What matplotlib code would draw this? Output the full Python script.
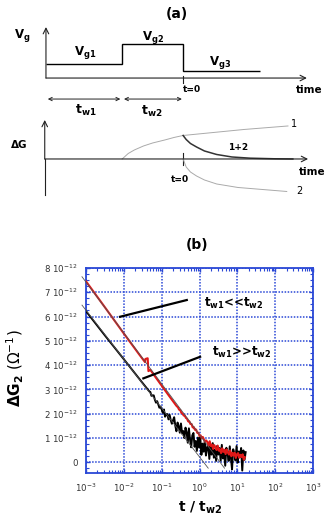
import numpy as np
import matplotlib
matplotlib.use("Agg")
import matplotlib.pyplot as plt
from matplotlib.ticker import FixedLocator, FuncFormatter, LogLocator, NullFormatter, MultipleLocator

plt.rcParams['font.family'] = ['DejaVu Sans']
plt.rcParams['mathtext.fontset'] = 'dejavusans'

# ---------------- panel (a) schematic data ----------------
vg_edges = [-2.25, -1.0, 0.0, 1.26]          # start, switch, t=0, end
vg_levels = [1.4, 3.4, 0.7]                  # Vg1, Vg2, Vg3
vg_labels = ['$\\mathbf{V_{g1}}$', '$\\mathbf{V_{g2}}$', '$\\mathbf{V_{g3}}$']

c1_t = [-1.0, -0.9, -0.8, -0.65, -0.5, -0.3, -0.15, 0.0, 0.5, 1.0, 1.72]
c1_y = [0.0, 0.55, 0.9, 1.3, 1.6, 1.9, 2.15, 2.35, 2.65, 2.95, 3.3]
c2_t = [0.0, 0.05, 0.12, 0.22, 0.35, 0.55, 0.9, 1.3, 1.7]
c2_y = [0.0, -0.8, -1.3, -1.7, -2.1, -2.5, -2.85, -3.05, -3.25]
c12_t = [0.0, 0.05, 0.12, 0.22, 0.35, 0.55, 0.8, 1.1, 1.5, 1.8]
c12_y = [2.35, 1.95, 1.55, 1.2, 0.8, 0.45, 0.2, 0.08, 0.02, 0.0]

# ---------------- panel (b) data (log10 t/tw2, dG in 1e-12 1/Ohm) ----------------
red_head_logt = [-3.0, -2.5, -2.0, -1.6, -1.44, -1.43, -1.37, -1.35, -1.3, -1.0, -0.8, -0.63]
red_head_val = [7.45, 6.38, 5.30, 4.45, 4.12, 4.25, 4.28, 3.75, 3.80, 3.15, 2.72, 2.36]
red_tail_val = [2.30, 2.26, 2.16, 2.15, 2.03, 2.01, 1.92, 1.92, 1.82, 1.79,
                1.68, 1.68, 1.57, 1.57, 1.43, 1.44, 1.33, 1.34, 1.21, 1.21,
                1.08, 1.10, 0.98, 1.03, 0.92, 0.83, 0.89, 0.82, 0.67, 0.86,
                0.66, 0.72, 0.54, 0.70, 0.60, 0.50, 0.68, 0.47, 0.53, 0.37,
                0.57, 0.42, 0.51, 0.33, 0.52, 0.39, 0.31, 0.48, 0.24, 0.38,
                0.26, 0.39, 0.17, 0.32, 0.37, 0.18, 0.30, 0.21, 0.32, 0.10, 0.20]
red_tail_range = (-0.6, 1.2)

black_head_logt = [-3.0, -2.5, -2.0, -1.5, -1.33]
black_head_val = [6.22, 5.22, 4.24, 3.25, 2.92]
black_tail_val = [2.89, 2.73, 2.75, 2.75, 2.57, 2.45, 2.51, 2.38, 2.24, 2.29,
                  2.17, 2.03, 2.17, 1.87, 1.97, 1.98, 1.76, 1.95, 1.73, 1.58,
                  1.72, 1.85, 1.50, 1.27, 1.63, 1.48, 1.21, 1.59, 1.18, 1.28,
                  0.99, 1.42, 1.23, 0.80, 1.39, 0.93, 0.61, 1.10, 1.20, 0.63,
                  0.87, 0.46, 1.01, 0.60, 1.03, 0.30, 0.76, 0.43, 0.89, 0.27,
                  0.56, 0.75, 0.13, 0.67, 0.31, 0.78, 0.18, 0.51, 0.05, 0.67,
                  0.31, 0.58, 0.06, 0.71, 0.15, 0.42, -0.15, 0.59, 0.38, 0.05,
                  0.65, 0.18, -0.30, 0.53, 0.38, 0.07, 0.66, -0.02, 0.44, 0.20,
                  0.58, -0.35, 0.48, 0.09, 0.41]
black_tail_range = (-1.3, 1.22)

fit_red_logt = [-3.106, 0.66]
fit_red_val = [7.64, -0.25]
fit_black_logt = [-3.106, 0.23]
fit_black_val = [6.47, -0.25]

y_ticks = [0, 1, 2, 3, 4, 5, 6, 7, 8]
x_ticks = [1e-3, 1e-2, 1e-1, 1e0, 1e1, 1e2, 1e3]

fig = plt.figure(figsize=(3.26, 5.2), dpi=100)

XL = (-3.004, 2.344)
ink = '#222222'

# ---- Vg diagram ----
ax_vg = fig.add_axes([0, 0.773, 1, 0.1923])
ax_vg.set_xlim(*XL); ax_vg.set_ylim(-4, 6); ax_vg.axis('off')
ax_vg.stairs(vg_levels, vg_edges, baseline=None, color='black', lw=1.0)
ax_vg.annotate('', xy=(2.03, 0), xytext=(vg_edges[0], 0),
               arrowprops=dict(arrowstyle='->', lw=0.8, color=ink, shrinkA=0, shrinkB=0))
ax_vg.annotate('', xy=(vg_edges[0], 5.1), xytext=(vg_edges[0], 0),
               arrowprops=dict(arrowstyle='->', lw=0.8, color=ink, shrinkA=0, shrinkB=0))
ax_vg.plot([0, 0], [0.25, -0.45], color=ink, lw=0.8)
ax_vg.annotate('', xy=(-1.03, -2.1), xytext=(-2.22, -2.1),
               arrowprops=dict(arrowstyle='<->', lw=0.7, color=ink, shrinkA=0, shrinkB=0,
                               mutation_scale=6))
ax_vg.annotate('', xy=(-0.02, -2.1), xytext=(-0.97, -2.1),
               arrowprops=dict(arrowstyle='<->', lw=0.7, color=ink, shrinkA=0, shrinkB=0,
                               mutation_scale=6))
ax_vg.text(-2.64, 4.3, '$\\mathbf{V_g}$', fontsize=8.5, ha='center', va='center')
ax_vg.text(-1.61, 2.55, vg_labels[0], fontsize=8.5, ha='center', va='center')
ax_vg.text(-0.49, 4.05, vg_labels[1], fontsize=8.5, ha='center', va='center')
ax_vg.text(0.6, 1.55, vg_labels[2], fontsize=8.5, ha='center', va='center')
ax_vg.text(0.15, -1.15, 't=0', fontsize=6.5, fontweight='bold', ha='center', va='center')
ax_vg.text(2.06, -1.2, 'time', fontsize=7.5, fontweight='bold', ha='center', va='center')
ax_vg.text(-1.6, -3.25, '$\\mathbf{t_{w1}}$', fontsize=9, ha='center', va='center')
ax_vg.text(-0.52, -3.35, '$\\mathbf{t_{w2}}$', fontsize=9, ha='center', va='center')

# ---- dG diagram ----
ax_dg = fig.add_axes([0, 0.6058, 1, 0.1731])
ax_dg.set_xlim(*XL); ax_dg.set_ylim(-4.6, 4.4); ax_dg.axis('off')
ax_dg.plot([-2.27, -2.27], [-3.6, 0], color=ink, lw=0.8)
ax_dg.annotate('', xy=(-2.27, 3.9), xytext=(-2.27, 0),
               arrowprops=dict(arrowstyle='->', lw=0.8, color=ink, shrinkA=0, shrinkB=0))
ax_dg.annotate('', xy=(2.05, 0), xytext=(-2.27, 0),
               arrowprops=dict(arrowstyle='->', lw=0.8, color=ink, shrinkA=0, shrinkB=0))
ax_dg.plot([0, 0], [0.6, -0.6], color=ink, lw=0.8)
ax_dg.plot(c1_t, c1_y, color='#aaaaaa', lw=0.7)
ax_dg.plot(c2_t, c2_y, color='#aaaaaa', lw=0.7)
ax_dg.plot(c12_t, c12_y, color='#333333', lw=1.1)
ax_dg.text(-2.69, 1.4, '\u0394G', fontsize=7.5, fontweight='bold', ha='center', va='center')
ax_dg.text(1.82, 3.45, '1', fontsize=7, ha='center', va='center')
ax_dg.text(1.9, -3.2, '2', fontsize=7, ha='center', va='center')
ax_dg.text(0.9, 1.1, '1+2', fontsize=6.5, fontweight='bold', ha='center', va='center')
ax_dg.text(2.11, -1.3, 'time', fontsize=7.5, fontweight='bold', ha='center', va='center')
ax_dg.text(-0.05, -2.1, 't=0', fontsize=6.5, fontweight='bold', ha='center', va='center')

fig.text(176.7 / 326, 1 - 13.5 / 520, '(a)', fontsize=10, fontweight='bold', ha='center', va='center')
fig.text(196.7 / 326, 1 - 245 / 520, '(b)', fontsize=10, fontweight='bold', ha='center', va='center')

# ---- panel (b) ----
blue = '#2a48d6'
ax = fig.add_axes([86 / 326, 47 / 520, 227 / 326, 205 / 520])
ax.set_xscale('log')
ax.set_xlim(1e-3, 1e3)
ax.set_ylim(-0.45e-12, 8.0e-12)

s = 1e-12
bt = np.concatenate([np.power(10.0, black_head_logt),
                     np.logspace(black_tail_range[0], black_tail_range[1], len(black_tail_val))])
bv = np.concatenate([black_head_val, black_tail_val]) * s
rt = np.concatenate([np.power(10.0, red_head_logt),
                     np.logspace(red_tail_range[0], red_tail_range[1], len(red_tail_val))])
rv = np.concatenate([red_head_val, red_tail_val]) * s

ax.plot(bt, bv, color='black', lw=1.4, zorder=3)
ax.plot(rt, rv, color='#e01818', lw=1.5, zorder=4)
ax.plot(np.power(10.0, fit_red_logt), np.array(fit_red_val) * s, color='#555555', lw=0.6,
        zorder=5, clip_on=False)
ax.plot(np.power(10.0, fit_black_logt), np.array(fit_black_val) * s, color='#555555', lw=0.6,
        zorder=5, clip_on=False)

# annotations
ax.plot([10 ** -2.10, 10 ** -0.336], [5.99 * s, 6.68 * s], color='black', lw=1.6, zorder=6)
ax.plot([10 ** -1.484, 10 ** 0.016], [3.45 * s, 4.34 * s], color='black', lw=1.6, zorder=6)
ax.text(10 ** 0.12, 6.55 * s, '$\\mathbf{t_{w1}}$<<$\\mathbf{t_{w2}}$', fontsize=8.5,
        fontweight='bold', ha='left', va='center', zorder=6)
ax.text(10 ** 0.33, 4.52 * s, '$\\mathbf{t_{w1}}$>>$\\mathbf{t_{w2}}$', fontsize=8.5,
        fontweight='bold', ha='left', va='center', zorder=6)

ax.yaxis.set_major_locator(FixedLocator([v * s for v in y_ticks]))
ax.yaxis.set_major_formatter(FuncFormatter(
    lambda v, p: '0' if abs(v) < 1e-15 else '%d 10$^{-12}$' % round(v / s)))
ax.yaxis.set_minor_locator(MultipleLocator(0.25e-12))
ax.xaxis.set_major_locator(FixedLocator(x_ticks))
ax.xaxis.set_major_formatter(FuncFormatter(lambda v, p: '10$^{%d}$' % round(np.log10(v))))
ax.xaxis.set_minor_locator(LogLocator(base=10, subs=np.arange(2, 10), numticks=20))
ax.xaxis.set_minor_formatter(NullFormatter())

ax.grid(True, which='major', color=blue, linestyle=(0, (1, 1)), lw=1.1)
for sp in ax.spines.values():
    sp.set_color(blue)
    sp.set_linewidth(1.3)
ax.tick_params(which='both', direction='in', top=True, right=True, color=blue,
               labelcolor='#333333', labelsize=6.2)
ax.tick_params(which='major', length=3, width=1.0)
ax.tick_params(which='minor', length=2, width=0.8)
ax.tick_params(axis='x', pad=6)
ax.tick_params(axis='y', pad=6)

fig.text(15 / 326, 1 - 368 / 520, '$\\mathbf{\\Delta G_2}$ ($\\Omega^{-1}$)', fontsize=11,
         rotation=90, ha='center', va='center')
fig.text(200 / 326, 1 - 508 / 520, '$\\mathbf{t\\ /\\ t_{w2}}$', fontsize=10,
         ha='center', va='center')

fig.savefig('out.png', dpi=100)
